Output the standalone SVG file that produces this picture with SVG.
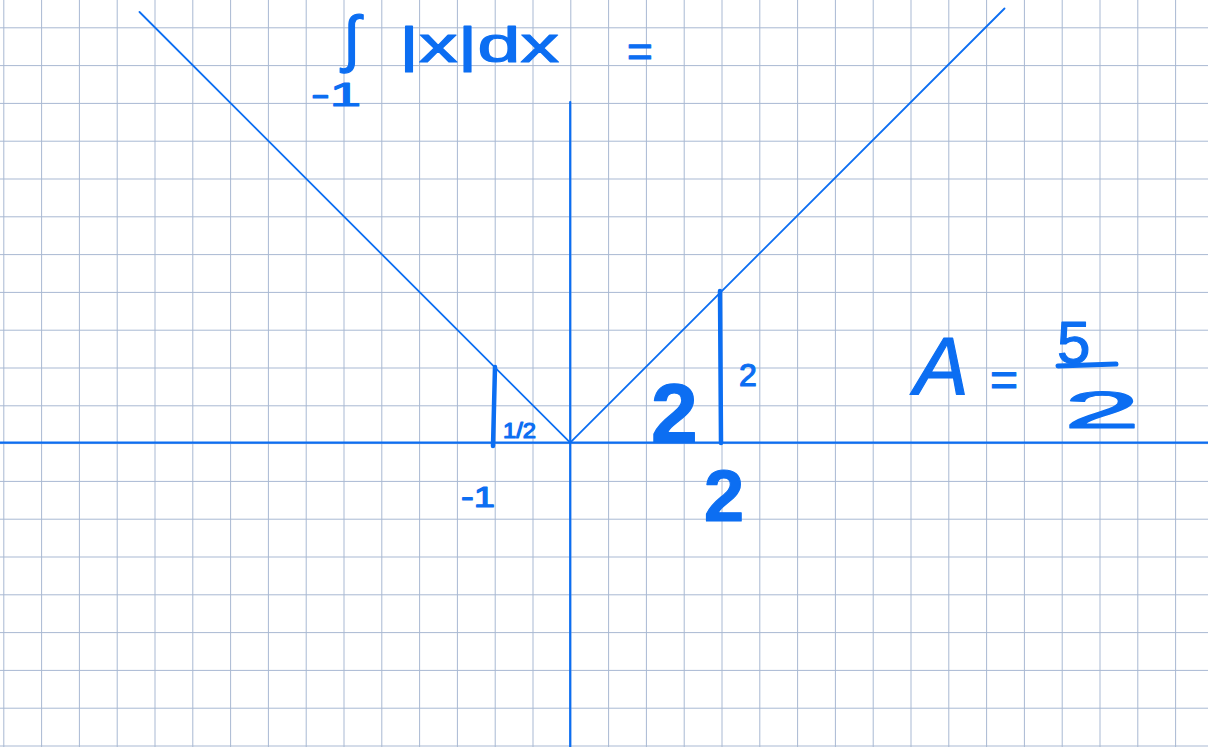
<svg xmlns="http://www.w3.org/2000/svg" width="1208" height="747" viewBox="0 0 1208 747">
<defs>
<pattern id="grid" x="3.3" y="27.3" width="37.8" height="37.8" patternUnits="userSpaceOnUse">
<path d="M0 0 H37.8 M0 0 V37.8" fill="none" stroke="#a8b8d2" stroke-width="2"/>
</pattern>
</defs>
<style>
.ink{fill:#0c6ef2;stroke:#0c6ef2;stroke-width:1.2;stroke-linejoin:round;font-family:"Liberation Sans","DejaVu Sans",sans-serif}
.pen{stroke:#0c6ef2;fill:none;stroke-linecap:round}
</style>
<rect width="1208" height="747" fill="#ffffff"/>
<rect width="1208" height="747" fill="url(#grid)"/>
<g id="axes">
<line class="pen" x1="0" y1="442.7" x2="1208" y2="442.7" stroke-width="2.2"/>
<line class="pen" x1="570.2" y1="102" x2="570.2" y2="747" stroke-width="2.2"/>
</g>
<g id="graph">
<line class="pen" x1="139.5" y1="12" x2="570.2" y2="442.7" stroke-width="1.8"/>
<line class="pen" x1="570.2" y1="442.7" x2="1004.5" y2="8.5" stroke-width="1.8"/>
</g>
<g id="marks">
<path class="pen" d="M495 367 L493 446" stroke-width="4.5"/>
<path class="pen" d="M720 291 L721 443" stroke-width="4.5"/>
<path class="pen" d="M1058 366 Q1090 365 1116 364" stroke-width="5"/>
</g>
<g id="labels">
<text class="ink" x="343" y="60" font-size="62">∫</text>
<text class="ink" x="399" y="62" font-size="50" textLength="160" lengthAdjust="spacingAndGlyphs">|x|dx</text>
<text class="ink" x="627" y="67" font-size="44">=</text>
<text class="ink" x="311" y="106" font-size="34" textLength="50" lengthAdjust="spacingAndGlyphs">-1</text>
<text class="ink" x="503" y="438" font-size="22" stroke-width="0.6" textLength="33" lengthAdjust="spacingAndGlyphs">1/2</text>
<text class="ink" x="651" y="442" font-size="84" font-weight="bold">2</text>
<text class="ink" x="739" y="386" font-size="32" stroke-width="0.6">2</text>
<text class="ink" x="461" y="507" font-size="30" textLength="34" lengthAdjust="spacingAndGlyphs">-1</text>
<text class="ink" x="704" y="521" font-size="72" font-weight="bold">2</text>
<text class="ink" x="914" y="394" font-size="82" font-style="italic">A</text>
<text class="ink" x="990" y="396" font-size="48">=</text>
<text class="ink" x="1057" y="363" font-size="60">5</text>
<text class="ink" x="1064" y="428" font-size="52" textLength="76" lengthAdjust="spacingAndGlyphs">2</text>
</g>
</svg>
